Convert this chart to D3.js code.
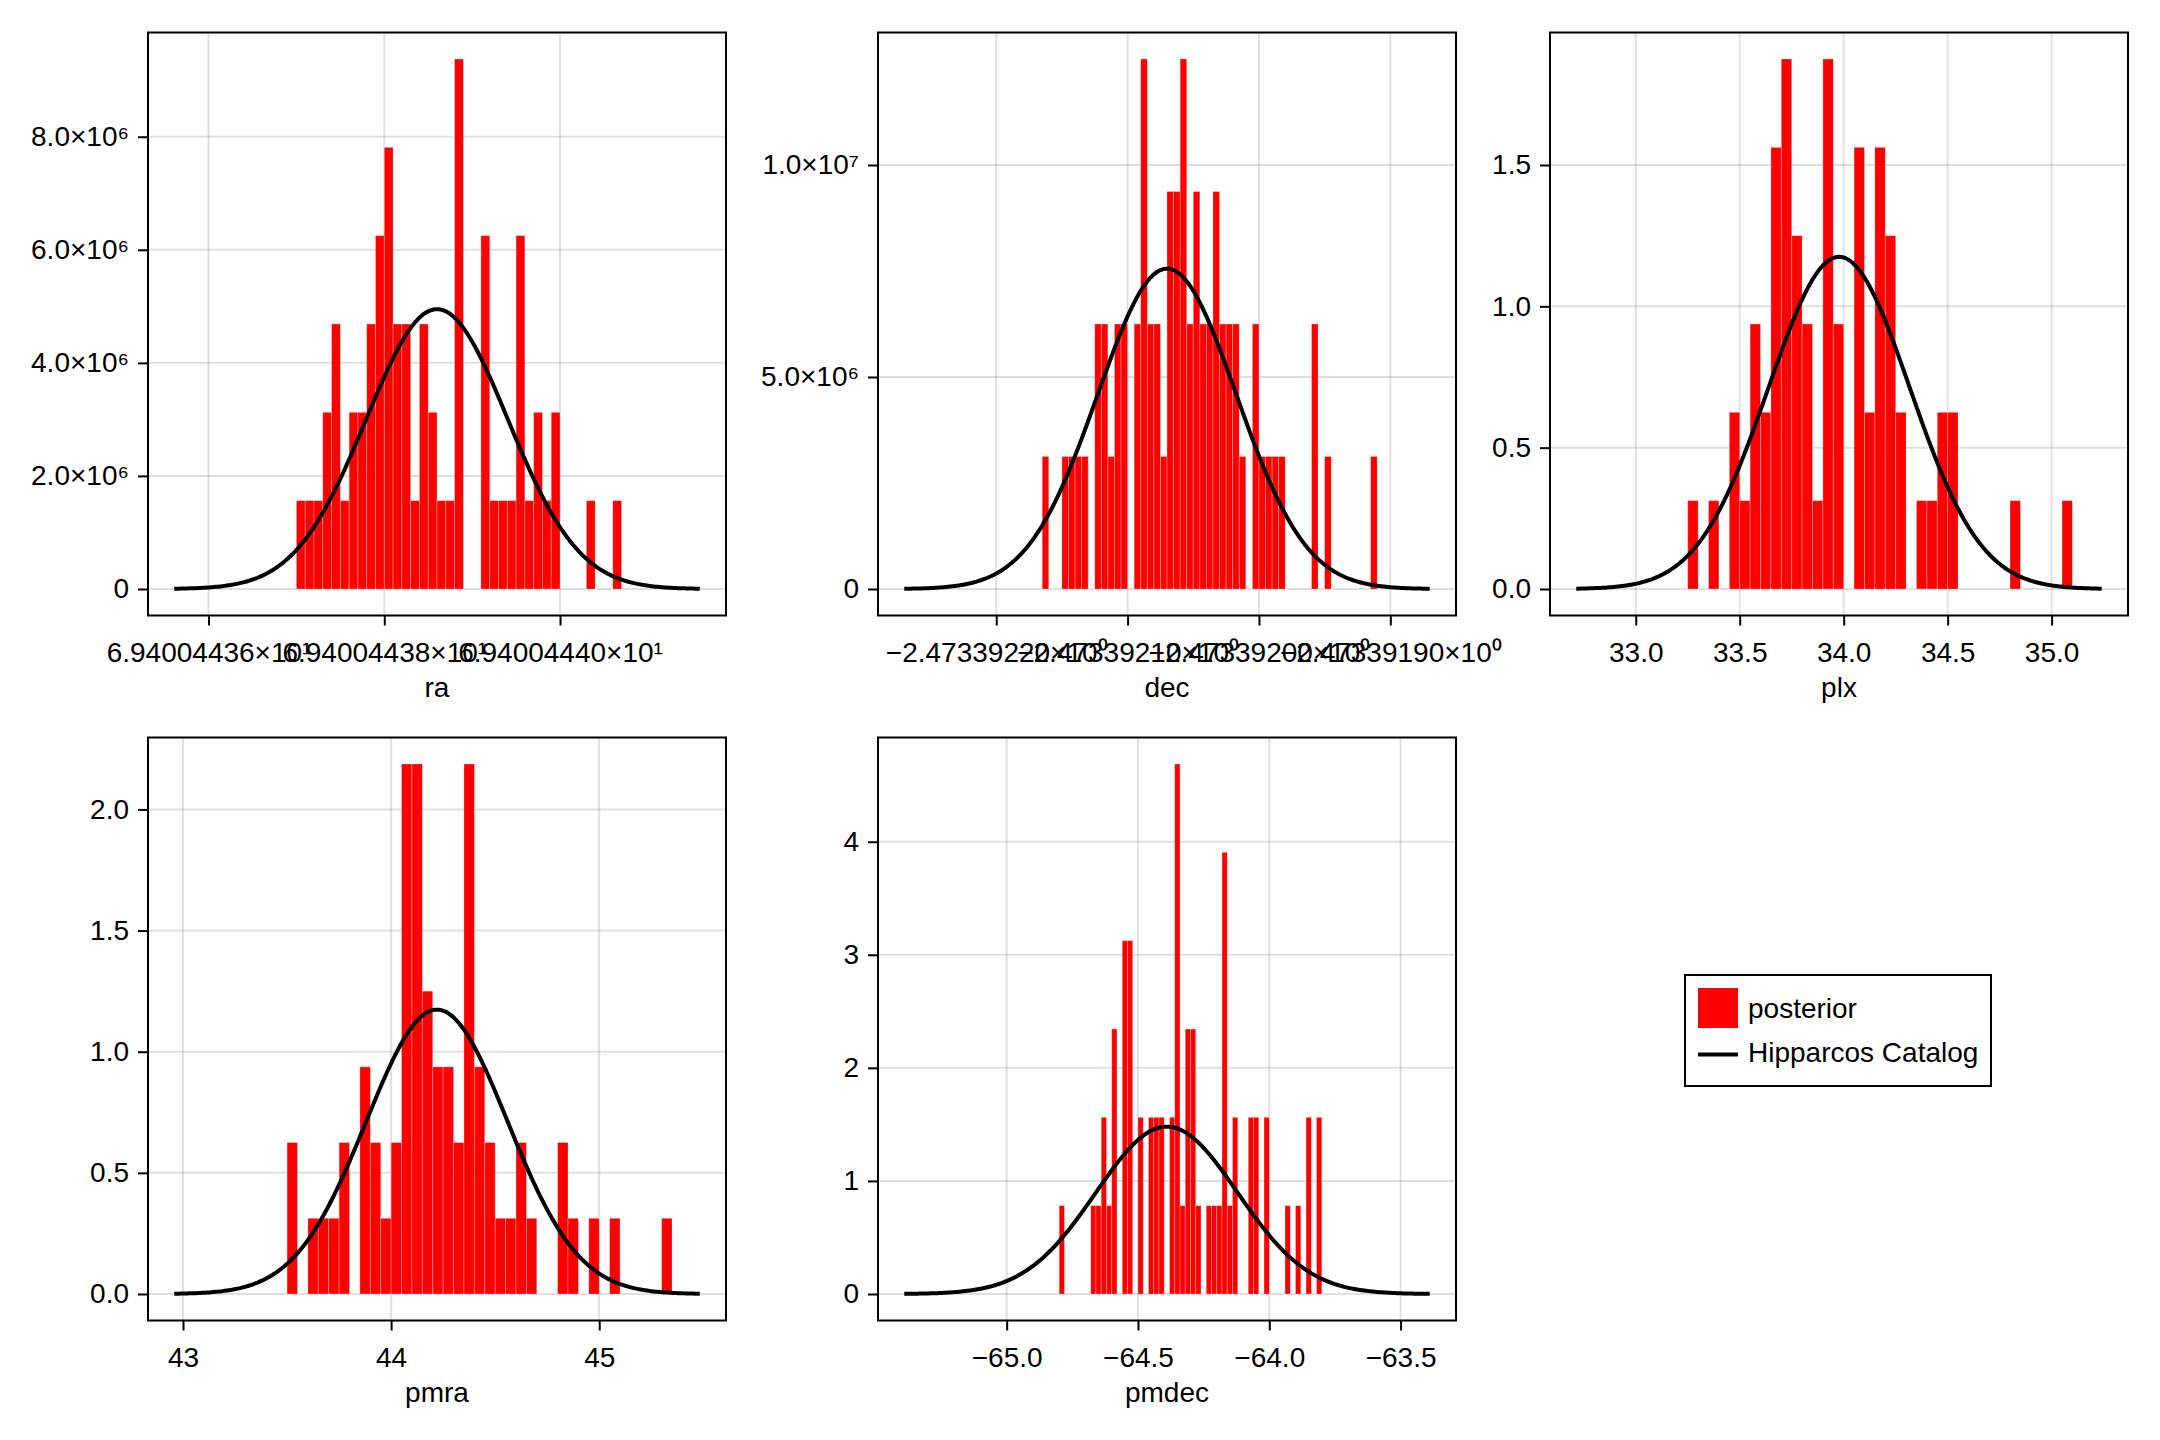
<!DOCTYPE html>
<html>
<head>
<meta charset="utf-8">
<script src="https://cdn.jsdelivr.net/npm/d3@7"></script>
<style>
  body { margin: 0; background: #fff; }
  svg { display: block; }
  text { font-family: "Liberation Sans", Arial, Helvetica, sans-serif; fill: #000; }
</style>
</head>
<body>
<svg id="chart" width="2160" height="1440"></svg>
<script>
// ---------------- DATA ----------------
const nSamples = 64;                       // posterior draws in each histogram
const variableNames = ["ra", "dec", "plx", "pmra", "pmdec"];

// histogram bins: first bin left edge, bin width, counts per bin
const binStarts = [69.4004437, -2.473392165, 33.25, 43.50, -64.80];
const binWidths = [1e-8, 5e-9, 0.05, 0.05, 0.02];

const raCounts    = [1,1,1,2,3,1,2,2,3,4,5,3,3,1,3,2,1,1,6,0,0,4,1,1,1,4,1,2,1,2,0,0,0,1,0,0,1];
const decCounts   = [1,0,0,1,1,1,1,0,2,2,1,2,2,0,2,4,2,2,1,3,3,4,2,3,2,2,3,2,2,2,1,0,2,1,1,1,1,0,0,0,0,2,0,1,0,0,0,0,0,0,1];
const plxCounts   = [1,0,1,0,2,1,3,2,5,6,4,3,1,6,3,0,5,2,5,4,2,0,1,1,2,2,0,0,0,0,0,1,0,0,0,0,1];
const pmraCounts  = [2,0,1,1,1,2,0,3,2,1,2,7,7,4,3,3,2,7,3,2,1,1,2,1,0,0,2,1,0,1,0,1,0,0,0,0,1];
const pmdecCounts = [1,0,0,0,0,0,1,1,2,1,3,0,4,4,0,2,0,2,2,2,0,2,6,1,3,3,1,0,1,1,1,5,1,2,0,0,2,2,0,2,0,0,0,1,0,1,0,2,0,2];

// Hipparcos catalog normal curves: mean, standard deviation, drawn range
const catalogMeans = [69.40044386, -2.47339207, 33.978, 44.220, -64.3905];
const catalogSDs   = [8.06e-8, 5.28e-8, 0.3395, 0.3399, 0.2695];
const curveFrom    = [69.400443561, -2.47339227, 32.714, 42.958, -65.390];
const curveTo      = [69.400444159, -2.47339187, 35.241, 45.483, -63.389];

// tick values and labels
const raXTicks    = [69.4004436, 69.4004438, 69.4004440];
const raXLabels   = ["6.94004436×10¹", "6.94004438×10¹", "6.94004440×10¹"];
const decXTicks   = [-2.4733922, -2.4733921, -2.4733920, -2.4733919];
const decXLabels  = ["−2.47339220×10⁰", "−2.47339210×10⁰", "−2.47339200×10⁰", "−2.47339190×10⁰"];
const plxXTicks   = [33.0, 33.5, 34.0, 34.5, 35.0];
const plxXLabels  = ["33.0", "33.5", "34.0", "34.5", "35.0"];
const pmraXTicks  = [43, 44, 45];
const pmraXLabels = ["43", "44", "45"];
const pmdecXTicks = [-65.0, -64.5, -64.0, -63.5];
const pmdecXLabels= ["−65.0", "−64.5", "−64.0", "−63.5"];

const raYTicks    = [0, 2e6, 4e6, 6e6, 8e6];
const raYLabels   = ["0", "2.0×10⁶", "4.0×10⁶", "6.0×10⁶", "8.0×10⁶"];
const decYTicks   = [0, 5e6, 1e7];
const decYLabels  = ["0", "5.0×10⁶", "1.0×10⁷"];
const plxYTicks   = [0, 0.5, 1.0, 1.5];
const plxYLabels  = ["0.0", "0.5", "1.0", "1.5"];
const pmraYTicks  = [0, 0.5, 1.0, 1.5, 2.0];
const pmraYLabels = ["0.0", "0.5", "1.0", "1.5", "2.0"];
const pmdecYTicks = [0, 1, 2, 3, 4];
const pmdecYLabels= ["0", "1", "2", "3", "4"];

const legendLabels = ["posterior", "Hipparcos Catalog"];

// ---------------- BUILD ----------------
const countsList = [raCounts, decCounts, plxCounts, pmraCounts, pmdecCounts];
const xTicksList = [raXTicks, decXTicks, plxXTicks, pmraXTicks, pmdecXTicks];
const xLabelsList = [raXLabels, decXLabels, plxXLabels, pmraXLabels, pmdecXLabels];
const yTicksList = [raYTicks, decYTicks, plxYTicks, pmraYTicks, pmdecYTicks];
const yLabelsList = [raYLabels, decYLabels, plxYLabels, pmraYLabels, pmdecYLabels];

const positions = [[148, 32.5], [878, 32.5], [1550, 32.5], [148, 737.5], [878, 737.5]];
const W = 578, H = 583;
const FONT = 28;
const svg = d3.select("#chart");

function pdf(x, m, s) {
  return Math.exp(-0.5 * ((x - m) / s) ** 2) / (s * Math.sqrt(2 * Math.PI));
}

variableNames.forEach((name, i) => {
  const counts = countsList[i];
  const w = binWidths[i];
  const bins = counts.map((c, k) => ({
    x0: binStarts[i] + k * w,
    x1: binStarts[i] + (k + 1) * w,
    density: c / (nSamples * w)
  }));
  const nCurve = 240;
  const curve = d3.range(nCurve + 1).map(j => {
    const x = curveFrom[i] + (curveTo[i] - curveFrom[i]) * j / nCurve;
    return [x, pdf(x, catalogMeans[i], catalogSDs[i])];
  });

  const lo = Math.min(curveFrom[i], bins[0].x0);
  const hi = Math.max(curveTo[i], bins[bins.length - 1].x1);
  const span = hi - lo;
  const ymax = Math.max(d3.max(bins, b => b.density), d3.max(curve, p => p[1]));

  const x = d3.scaleLinear().domain([lo - 0.05 * span, hi + 0.05 * span]).range([0, W]);
  const y = d3.scaleLinear().domain([-0.05 * ymax, 1.05 * ymax]).range([H, 0]);

  const g = svg.append("g").attr("transform", `translate(${positions[i][0]},${positions[i][1]})`);

  const clipId = "clip" + i;
  g.append("clipPath").attr("id", clipId).append("rect").attr("width", W).attr("height", H);
  const plot = g.append("g").attr("clip-path", `url(#${clipId})`);

  // grid
  plot.selectAll(".gx").data(xTicksList[i]).enter().append("line")
    .attr("x1", d => x(d)).attr("x2", d => x(d)).attr("y1", 0).attr("y2", H)
    .attr("stroke", "rgba(0,0,0,0.12)").attr("stroke-width", 2);
  plot.selectAll(".gy").data(yTicksList[i]).enter().append("line")
    .attr("x1", 0).attr("x2", W).attr("y1", d => y(d)).attr("y2", d => y(d))
    .attr("stroke", "rgba(0,0,0,0.12)").attr("stroke-width", 2);

  // bars
  plot.selectAll(".bar").data(bins.filter(b => b.density > 0)).enter().append("rect")
    .attr("x", b => x(b.x0)).attr("width", b => x(b.x1) - x(b.x0))
    .attr("y", b => y(b.density)).attr("height", b => y(0) - y(b.density))
    .attr("fill", "#ff0000").attr("stroke", "rgba(255,255,255,0.35)").attr("stroke-width", 0.8);

  // curve
  plot.append("path").datum(curve)
    .attr("d", d3.line().x(p => x(p[0])).y(p => y(p[1])))
    .attr("fill", "none").attr("stroke", "#000").attr("stroke-width", 4)
    .attr("stroke-linejoin", "round");

  // axes
  const xl = xLabelsList[i], yl = yLabelsList[i];
  const xa = g.append("g").attr("transform", `translate(0,${H})`)
    .call(d3.axisBottom(x).tickValues(xTicksList[i]).tickFormat((d, k) => xl[k])
      .tickSize(10).tickPadding(17).tickSizeOuter(0));
  const ya = g.append("g")
    .call(d3.axisLeft(y).tickValues(yTicksList[i]).tickFormat((d, k) => yl[k])
      .tickSize(10).tickPadding(9).tickSizeOuter(0));
  [xa, ya].forEach(a => {
    a.select(".domain").remove();
    a.selectAll(".tick line").attr("stroke", "#000").attr("stroke-width", 2);
    a.selectAll(".tick text").attr("font-size", FONT)
      .attr("font-family", '"Liberation Sans", Arial, sans-serif').attr("fill", "#000");
  });

  // spines
  g.append("rect").attr("width", W).attr("height", H)
    .attr("fill", "none").attr("stroke", "#000").attr("stroke-width", 2);

  // axis label
  g.append("text").attr("x", W / 2).attr("y", H + 81)
    .attr("text-anchor", "middle").attr("font-size", FONT).text(name);
});

// legend
const lg = svg.append("g").attr("transform", "translate(1685,975)");
lg.append("rect").attr("width", 306).attr("height", 111)
  .attr("fill", "#fff").attr("stroke", "#000").attr("stroke-width", 2);
lg.append("rect").attr("x", 13).attr("y", 13).attr("width", 40).attr("height", 40).attr("fill", "#ff0000");
lg.append("text").attr("x", 63).attr("y", 43).attr("font-size", FONT).text(legendLabels[0]);
lg.append("line").attr("x1", 13).attr("x2", 53).attr("y1", 79.5).attr("y2", 79.5)
  .attr("stroke", "#000").attr("stroke-width", 4);
lg.append("text").attr("x", 63).attr("y", 87).attr("font-size", FONT).text(legendLabels[1]);
</script>
</body>
</html>
